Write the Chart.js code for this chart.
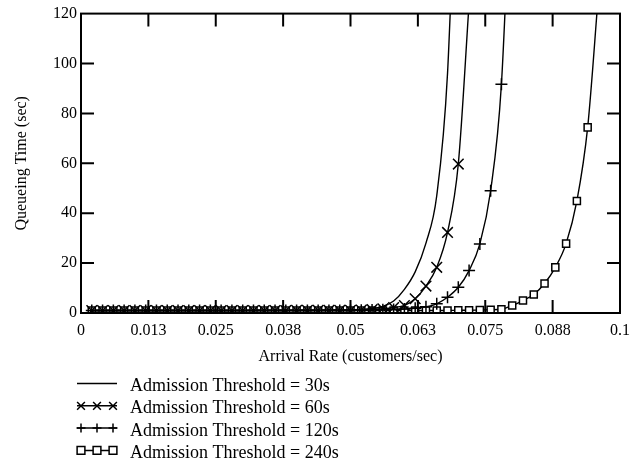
<!DOCTYPE html>
<html>
<head>
<meta charset="utf-8">
<title>Queueing Time vs Arrival Rate</title>
<script src="https://cdn.jsdelivr.net/npm/chart.js@4.4.0/dist/chart.umd.min.js"></script>
<style>
    html, body { margin: 0; padding: 0; background: #fff; }
    #wrap { width: 641px; height: 466px; }
</style>
</head>
<body>
<div id="wrap"><canvas id="queueChart" width="641" height="466"></canvas></div>
<script>
// arrival rate grid (customers/sec)
const arrivalRate = [
    0.002, 0.004, 0.006, 0.008, 0.010, 0.012, 0.014, 0.016, 0.018, 0.020,
    0.022, 0.024, 0.026, 0.028, 0.030, 0.032, 0.034, 0.036, 0.038, 0.040,
    0.042, 0.044, 0.046, 0.048, 0.050, 0.052, 0.054, 0.056, 0.058, 0.060,
    0.062, 0.064, 0.066, 0.068, 0.070, 0.072, 0.074, 0.076, 0.078, 0.080,
    0.082, 0.084, 0.086, 0.088, 0.090, 0.092, 0.094, 0.096
];

// queueing time (sec) per admission threshold, null = off the chart
const wait30 = [
    1.0, 1.0, 1.0, 1.0, 1.0, 1.0, 1.0, 1.0, 1.0, 1.0,
    1.0, 1.0, 1.0, 1.0, 1.0, 1.1, 1.1, 1.1, 1.1, 1.1,
    1.1, 1.1, 1.2, 1.2, 1.3, 1.4, 1.8, 2.6, 4.8, 9.5,
    16.5, 28, 47, 96, 210, null, null, null, null, null,
    null, null, null, null, null, null, null, null
];
const wait60 = [
    1.0, 1.0, 1.0, 1.0, 1.0, 1.0, 1.0, 1.0, 1.0, 1.0,
    1.0, 1.0, 1.0, 1.0, 1.0, 1.0, 1.0, 1.0, 1.0, 1.1,
    1.1, 1.1, 1.1, 1.1, 1.1, 1.2, 1.4, 1.7, 2.2, 3.0,
    5.7, 10.8, 18.3, 32.3, 59.7, 124, null, null, null, null,
    null, null, null, null, null, null, null, null
];
const wait120 = [
    1.0, 1.0, 1.0, 1.0, 1.0, 1.0, 1.0, 1.0, 1.0, 1.0,
    1.0, 1.0, 1.0, 1.0, 1.0, 1.0, 1.0, 1.0, 1.0, 1.0,
    1.0, 1.0, 1.0, 1.0, 1.0, 1.1, 1.2, 1.3, 1.4, 1.6,
    1.9, 2.5, 3.7, 6.3, 10.3, 17, 27.7, 49, 91.7, 190,
    null, null, null, null, null, null, null, null
];
const wait240 = [
    1.0, 1.0, 1.0, 1.0, 1.0, 1.0, 1.0, 1.0, 1.0, 1.0,
    1.0, 1.0, 1.0, 1.0, 1.0, 1.0, 1.0, 1.0, 1.0, 1.0,
    1.0, 1.0, 1.0, 1.0, 1.0, 1.0, 1.0, 1.0, 1.0, 1.0,
    1.0, 1.0, 1.0, 1.0, 1.1, 1.1, 1.2, 1.3, 1.5, 3.0,
    5.0, 7.4, 11.8, 18.3, 27.8, 44.9, 74.4, 128
];

const seriesNames = [
    "Admission Threshold = 30s",
    "Admission Threshold = 60s",
    "Admission Threshold = 120s",
    "Admission Threshold = 240s"
];

const xTicks = [0, 0.0125, 0.025, 0.0375, 0.05, 0.0625, 0.075, 0.0875, 0.1];
const xTickLabels = ["0", "0.013", "0.025", "0.038", "0.05", "0.063", "0.075", "0.088", "0.1"];
const yTicks = [0, 20, 40, 60, 80, 100, 120];

const serif = '"Liberation Serif", "Times New Roman", serif';

function toPoints(values) {
    return arrivalRate
        .map((x, i) => ({ x: x, y: values[i] }))
        .filter(p => p.y !== null);
}

// marker look per series (plot size, legend size)
const markerStyles = [
    { style: false, radius: 0, legendRadius: 0 },
    { style: "crossRot", radius: 7.5, legendRadius: 5.5 },
    { style: "cross", radius: 6, legendRadius: 4.5 },
    { style: "rect", radius: 5, legendRadius: 5.5 }
];

function makeDataset(values, idx) {
    const m = markerStyles[idx];
    return {
        label: seriesNames[idx],
        data: toPoints(values),
        borderColor: "#000",
        borderWidth: 1.4,
        cubicInterpolationMode: "monotone",
        fill: false,
        clip: 0,
        pointStyle: m.style,
        pointRadius: m.radius,
        pointHoverRadius: m.radius,
        pointBorderColor: "#000",
        pointBackgroundColor: "#fff",
        pointBorderWidth: 1.5
    };
}

// frame with inward ticks, axis titles and stacked legend
const framePlugin = {
    id: "frameAndLegend",
    afterDraw(chart) {
        const ctx = chart.ctx;
        const a = chart.chartArea;
        const xs = chart.scales.x;
        const ys = chart.scales.y;
        ctx.save();
        ctx.strokeStyle = "#000";
        ctx.lineWidth = 2;
        ctx.strokeRect(a.left, a.top, a.right - a.left, a.bottom - a.top);

        const len = 13;
        ctx.beginPath();
        xTicks.slice(1, -1).forEach(v => {
            const px = xs.getPixelForValue(v);
            ctx.moveTo(px, a.bottom);
            ctx.lineTo(px, a.bottom - len);
            ctx.moveTo(px, a.top);
            ctx.lineTo(px, a.top + len);
        });
        yTicks.slice(1, -1).forEach(v => {
            const py = ys.getPixelForValue(v);
            ctx.moveTo(a.left, py);
            ctx.lineTo(a.left + len, py);
            ctx.moveTo(a.right, py);
            ctx.lineTo(a.right - len, py);
        });
        ctx.stroke();

        ctx.fillStyle = "#000";
        ctx.font = "16px " + serif;
        ctx.textAlign = "center";
        ctx.textBaseline = "middle";
        ctx.fillText("Arrival Rate (customers/sec)", (a.left + a.right) / 2, 357);
        ctx.save();
        ctx.translate(22, (a.top + a.bottom) / 2);
        ctx.rotate(-Math.PI / 2);
        ctx.fillText("Queueing Time (sec)", 0, 0);
        ctx.restore();

        // legend rows
        ctx.font = "18px " + serif;
        ctx.textAlign = "left";
        ctx.textBaseline = "alphabetic";
        chart.data.datasets.forEach((ds, i) => {
            const rowY = 383.5 + i * 22.3;
            ctx.lineWidth = 1.5;
            ctx.strokeStyle = "#000";
            ctx.beginPath();
            ctx.moveTo(77, rowY);
            ctx.lineTo(117, rowY);
            ctx.stroke();
            const m = markerStyles[i];
            if (m.style) {
                [81, 97, 113].forEach(mx => {
                    ctx.fillStyle = "#fff";
                    Chart.helpers.drawPoint(ctx, {
                        pointStyle: m.style,
                        radius: m.legendRadius,
                        borderWidth: 1.5,
                        rotation: 0
                    }, mx, rowY);
                });
            }
            ctx.fillStyle = "#000";
            ctx.fillText(ds.label, 130, rowY + 7.5);
        });
        ctx.restore();
    }
};

const ctx = document.getElementById("queueChart").getContext("2d");
const chart = new Chart(ctx, {
    type: "line",
    data: {
        datasets: [
            makeDataset(wait30, 0),
            makeDataset(wait60, 1),
            makeDataset(wait120, 2),
            makeDataset(wait240, 3)
        ]
    },
    options: {
        responsive: false,
        animation: false,
        devicePixelRatio: 1,
        layout: { padding: { left: 0, top: 12, right: 21, bottom: 123 } },
        plugins: {
            legend: { display: false },
            tooltip: { enabled: false }
        },
        scales: {
            x: {
                type: "linear",
                min: 0,
                max: 0.1,
                afterBuildTicks: scale => { scale.ticks = xTicks.map(v => ({ value: v })); },
                afterFit: scale => { scale.height = 30; },
                grid: { display: false, drawTicks: false, tickLength: 0 },
                border: { display: false },
                ticks: {
                    autoSkip: false,
                    maxRotation: 0,
                    padding: 8,
                    color: "#000",
                    font: { family: serif, size: 16 },
                    callback: (value, index) => xTickLabels[index]
                }
            },
            y: {
                min: 0,
                max: 120,
                afterBuildTicks: scale => { scale.ticks = yTicks.map(v => ({ value: v })); },
                afterFit: scale => { scale.width = 81; },
                grid: { display: false, drawTicks: false, tickLength: 0 },
                border: { display: false },
                ticks: {
                    padding: 4,
                    color: "#000",
                    font: { family: serif, size: 16 },
                    callback: value => String(value)
                }
            }
        }
    },
    plugins: [framePlugin]
});
</script>
</body>
</html>
